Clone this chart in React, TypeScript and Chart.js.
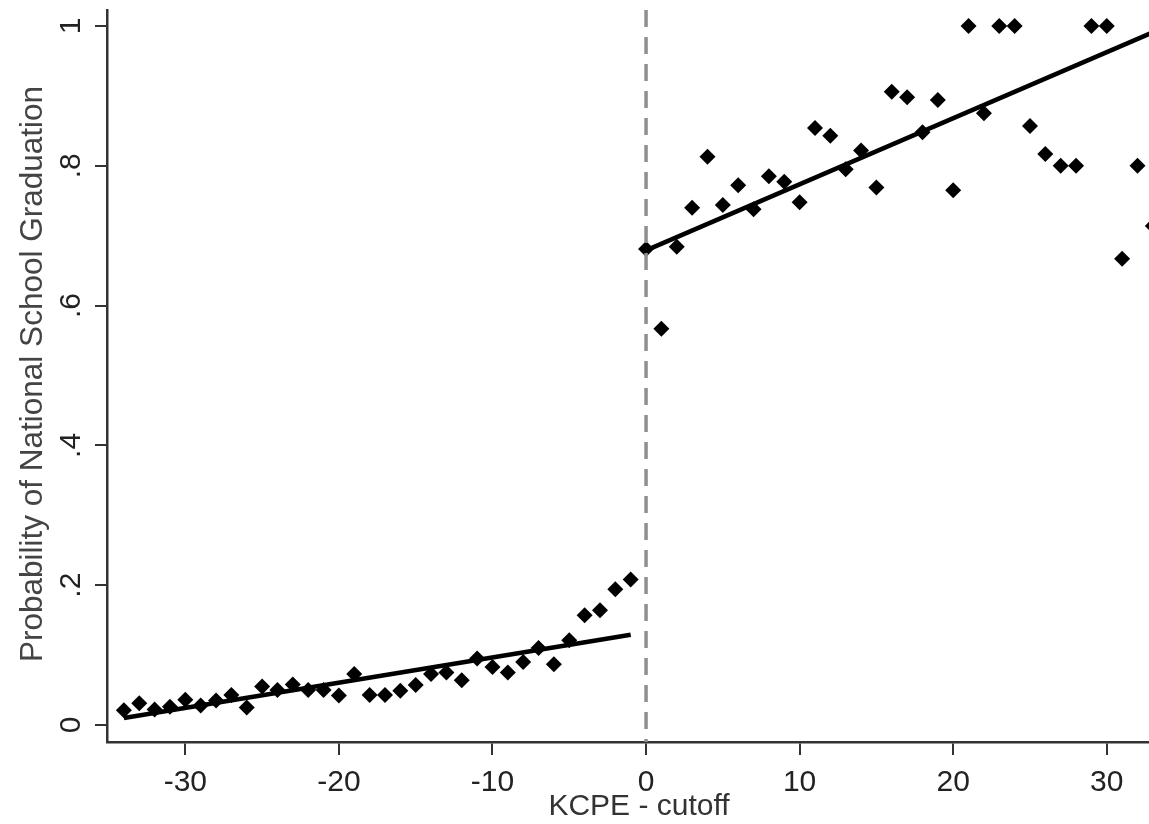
import React, { useEffect, useRef } from 'react';
import { Chart, registerables } from 'chart.js';

Chart.register(...registerables);

// Bin means below the cutoff (KCPE - cutoff < 0)
const BELOW_X = [-34, -33, -32, -31, -30, -29, -28, -27, -26, -25, -24, -23, -22, -21, -20, -19, -18, -17, -16, -15, -14, -13, -12, -11, -10, -9, -8, -7, -6, -5, -4, -3, -2, -1];
const BELOW_Y = [0.021, 0.031, 0.022, 0.026, 0.036, 0.028, 0.035, 0.043, 0.025, 0.055, 0.05, 0.058, 0.05, 0.05, 0.042, 0.073, 0.043, 0.043, 0.049, 0.057, 0.073, 0.075, 0.064, 0.095, 0.083, 0.075, 0.09, 0.11, 0.087, 0.121, 0.157, 0.164, 0.194, 0.208];

// Bin means at or above the cutoff
const ABOVE_X = [0, 1, 2, 3, 4, 5, 6, 7, 8, 9, 10, 11, 12, 13, 14, 15, 16, 17, 18, 19, 20, 21, 22, 23, 24, 25, 26, 27, 28, 29, 30, 31, 32, 33];
const ABOVE_Y = [0.681, 0.567, 0.684, 0.74, 0.813, 0.744, 0.772, 0.738, 0.785, 0.777, 0.748, 0.854, 0.843, 0.795, 0.822, 0.769, 0.906, 0.898, 0.848, 0.894, 0.765, 1, 0.875, 1, 1, 0.857, 0.817, 0.8, 0.8, 1, 1, 0.667, 0.8, 0.714];

// Linear fit endpoints on each side
const FIT_BELOW_X = [-34, -1];
const FIT_BELOW_Y = [0.01, 0.129];
const FIT_ABOVE_X = [0, 33];
const FIT_ABOVE_Y = [0.679, 0.991];

const CUTOFF_X = 0;

const X_TICKS = [-30, -20, -10, 0, 10, 20, 30];
const Y_TICKS = [0, 0.2, 0.4, 0.6, 0.8, 1];
const Y_TICK_LABELS = ['0', '.2', '.4', '.6', '.8', '1'];

const X_TITLE = 'KCPE - cutoff';
const Y_TITLE = 'Probability of National School Graduation';

const X_MIN = -35.1;
const X_MAX = 32.75;
const Y_MIN = -0.0244;
const Y_MAX = 1.0229;

const FONT = '"Liberation Sans", Arial, sans-serif';

const pts = (xs: number[], ys: number[]) => xs.map((x, i) => ({ x, y: ys[i] }));

const textPlugin = {
  id: 'stataTexts',
  afterDraw(chart: any) {
    const { ctx, chartArea, scales } = chart;
    const y = scales.y;
    ctx.save();
    ctx.fillStyle = '#222';
    ctx.font = `30px ${FONT}`;
    ctx.textAlign = 'center';
    ctx.textBaseline = 'alphabetic';
    Y_TICKS.forEach((v, i) => {
      const py = y.getPixelForValue(v);
      ctx.save();
      ctx.translate(chartArea.left - 27, py);
      ctx.rotate(-Math.PI / 2);
      ctx.fillText(Y_TICK_LABELS[i], 0, 0);
      ctx.restore();
    });
    ctx.fillStyle = '#444';
    ctx.font = `31.5px ${FONT}`;
    ctx.save();
    ctx.translate(42, (chartArea.top + chartArea.bottom) / 2 - 2);
    ctx.rotate(-Math.PI / 2);
    ctx.fillText(Y_TITLE, 0, 0);
    ctx.restore();
    ctx.font = `30px ${FONT}`;
    ctx.fillStyle = '#333';
    ctx.fillText(X_TITLE, (chartArea.left + chartArea.right) / 2 + 11, 815);
    ctx.restore();
  },
};

export default function App() {
  const ref = useRef<HTMLCanvasElement | null>(null);
  useEffect(() => {
    if (!ref.current) return;
    const chart = new Chart(ref.current, {
      type: 'scatter',
      data: {
        datasets: [
          {
            type: 'line',
            data: [
              { x: CUTOFF_X, y: Y_MAX },
              { x: CUTOFF_X, y: Y_MIN },
            ],
            borderColor: '#8f8f8f',
            borderWidth: 3.5,
            borderDash: [17, 10],
            pointRadius: 0,
            fill: false,
          },
          {
            data: pts(BELOW_X, BELOW_Y),
            backgroundColor: '#000',
            borderColor: '#000',
            borderWidth: 0,
            pointStyle: 'rectRot',
            pointRadius: 8,
          },
          {
            data: pts(ABOVE_X, ABOVE_Y),
            backgroundColor: '#000',
            borderColor: '#000',
            borderWidth: 0,
            pointStyle: 'rectRot',
            pointRadius: 8,
          },
          {
            type: 'line',
            data: pts(FIT_BELOW_X, FIT_BELOW_Y),
            borderColor: '#000',
            borderWidth: 4.5,
            pointRadius: 0,
            fill: false,
          },
          {
            type: 'line',
            data: pts(FIT_ABOVE_X, FIT_ABOVE_Y),
            borderColor: '#000',
            borderWidth: 4.5,
            pointRadius: 0,
            fill: false,
          },
        ],
      } as any,
      options: {
        animation: false,
        responsive: false,
        layout: { autoPadding: false, padding: { top: 10, right: 0, left: 0, bottom: 0 } },
        plugins: {
          legend: { display: false },
          tooltip: { enabled: false },
        },
        scales: {
          x: {
            type: 'linear',
            min: X_MIN,
            max: X_MAX,
            afterBuildTicks: (s: any) => {
              s.ticks = X_TICKS.map((v) => ({ value: v }));
            },
            afterFit: (s: any) => {
              s.height = 82;
              s.paddingLeft = 0;
              s.paddingRight = 0;
            },
            border: { display: true, color: '#333', width: 2.5 },
            grid: { drawOnChartArea: false, drawTicks: true, tickLength: 13, color: '#333', lineWidth: 2 },
            ticks: {
              color: '#222',
              font: { family: FONT, size: 30 },
              padding: 10,
              maxRotation: 0,
              callback: (v: any) => String(v),
            },
          },
          y: {
            type: 'linear',
            min: Y_MIN,
            max: Y_MAX,
            afterBuildTicks: (s: any) => {
              s.ticks = Y_TICKS.map((v) => ({ value: v }));
            },
            afterFit: (s: any) => {
              s.width = 107;
            },
            border: { display: true, color: '#333', width: 2.5 },
            grid: { drawOnChartArea: false, drawTicks: true, tickLength: 12, color: '#333', lineWidth: 2 },
            ticks: { display: false },
          },
        },
      } as any,
      plugins: [textPlugin],
    });
    return () => chart.destroy();
  }, []);
  return (
    <div style={{ position: 'fixed', left: 0, top: 0, width: 1149, height: 824, background: '#fff' }}>
      <canvas ref={ref} width={1149} height={824} style={{ display: 'block' }} />
    </div>
  );
}
